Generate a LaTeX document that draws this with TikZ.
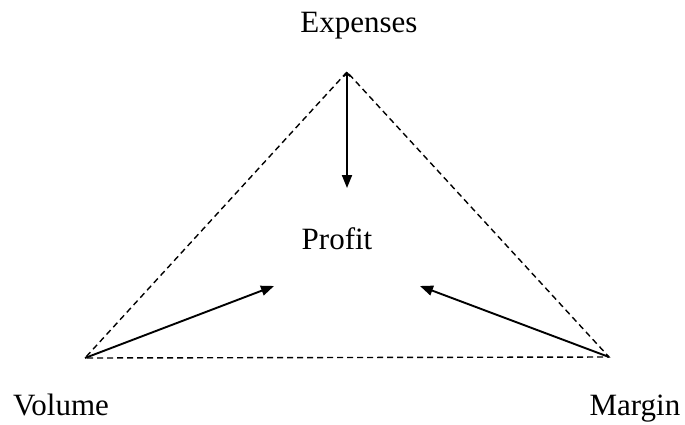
\documentclass[tikz,border=0pt]{standalone}
\usepackage{fontspec}
\setmainfont{Liberation Serif}
\usetikzlibrary{arrows.meta, positioning}
\tikzset{
  every picture/.style={x=1pt, y=-1pt},
  label/.style={font=\fontsize{31}{36}\selectfont, inner sep=0pt, anchor=base},
  edge/.style={dashed, dash pattern=on 6pt off 4pt, line width=1.4pt},
  arrow/.style={-{Triangle[length=13pt, width=10pt]}, line width=1.9pt},
}
\begin{document}
\begin{tikzpicture}
  \useasboundingbox (0,0) rectangle (685,424);
  % corners of the triangle
  \coordinate (top) at (347,72);
  \coordinate (left) at (85,358);
  \coordinate (right) at (609,357);
  % where the arrows stop
  \coordinate (tipE) at (347,188);
  \coordinate (tipV) at (274,286);
  \coordinate (tipM) at (420,286);
  \node[label] (expenses) at (359,32) {Expenses};
  \node[label] (profit) at (337,249) {Profit};
  \node[label] (volume) at (61,415) {Volume};
  \node[label] (margin) at (635,415) {Margin};
  \draw[edge] (top) -- (left) -- (right) -- cycle;
  \draw[arrow, {Straight Barb[length=3pt, width=7pt]}-{Triangle[length=13pt, width=10pt]}] (top) -- (tipE);
  \draw[arrow] (left) -- (tipV);
  \draw[arrow] (right) -- (tipM);
\end{tikzpicture}
\end{document}
